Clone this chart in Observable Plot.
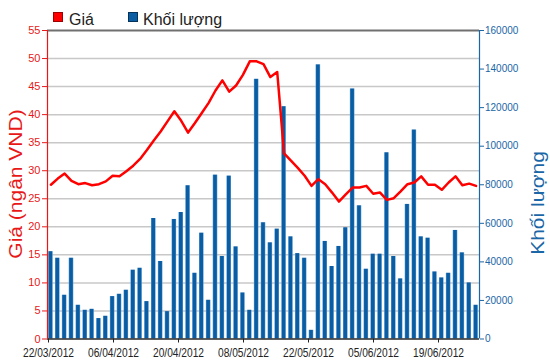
<!DOCTYPE html>
<html>
<head>
<meta charset="utf-8">
<script src="https://cdn.jsdelivr.net/npm/d3@7"></script>
<script src="https://cdn.jsdelivr.net/npm/@observablehq/plot@0.6"></script>
<style>
  html, body { margin: 0; padding: 0; background: #fff; }
  #wrap { position: relative; width: 550px; height: 364px; overflow: hidden; font-family: "Liberation Sans", Arial, sans-serif; }
  #legend { position: relative; height: 28px; }
  .sw { position: absolute; top: 12px; width: 10px; height: 10px; box-sizing: border-box; }
  .lt { position: absolute; top: 12px; font-size: 16px; line-height: 16px; color: #222; white-space: nowrap; }
  #xaxis { position: absolute; left: 0; top: 28px; }
  .yt { position: absolute; white-space: nowrap; line-height: 1; }
</style>
</head>
<body>
<div id="wrap">
  <div id="legend">
    <div class="sw" style="left:53px;background:#ff0000;border:1px solid #a00000"></div>
    <div class="lt" style="left:69px">Giá</div>
    <div class="sw" style="left:128px;background:#0b5da3;border:1px solid #06335c"></div>
    <div class="lt" style="left:143px">Khối lượng</div>
  </div>
  <div id="chart"></div>
  <div id="xaxis"></div>
  <div class="yt" style="left:16px;top:184px;font-size:21px;color:#e81818;transform:translate(-50%,-50%) rotate(-90deg) scaleY(0.85)">Giá (ngân VND)</div>
  <div class="yt" style="left:538px;top:203px;font-size:21px;color:#1a66a6;transform:translate(-50%,-50%) rotate(-90deg) scaleY(0.85)">Khối lượng</div>
</div>
<script>
// ---- data ----
const xLabels = ["22/03/2012", "06/04/2012", "20/04/2012", "08/05/2012", "22/05/2012", "05/06/2012", "19/06/2012"];

const prices = [
  27.5, 28.6, 29.5, 28.2, 27.6, 27.8, 27.4, 27.6, 28.1, 29.1,
  29.0, 29.9, 30.9, 32.1, 33.7, 35.4, 37.0, 38.8, 40.6, 38.9,
  36.8, 38.5, 40.3, 42.1, 44.3, 46.1, 44.1, 45.2, 47.1, 49.5,
  49.5, 49.0, 46.7, 47.6, 33.1, 31.8, 30.5, 29.1, 27.3, 28.5,
  27.6, 26.1, 24.5, 25.8, 27.0, 27.0, 27.3, 25.9, 26.1, 24.8,
  25.1, 26.3, 27.6, 27.9, 29.0, 27.5, 27.5, 26.6, 27.9, 29.0,
  27.4, 27.7, 27.3
];

const volumes = [
  45300, 41900, 22700, 41900, 17500, 14900, 15400, 10600, 11800, 22000,
  23200, 25300, 35700, 36700, 19400, 62500, 40200, 14200, 62000, 65600,
  79500, 34100, 54900, 20100, 85000, 42800, 84500, 47800, 23900, 14900,
  134700, 60300, 49900, 57000, 120500, 53000, 44300, 41900, 4500, 142200,
  50600, 37600, 48000, 57700, 129700, 69100, 36200, 44000, 44000, 96600,
  42800, 31200, 69800, 108400, 53000, 52300, 34800, 31700, 34100, 56300,
  44700, 29100, 17500
];

const priceTicks = [0, 5, 10, 15, 20, 25, 30, 35, 40, 45, 50, 55];
const volumeTicks = [0, 20000, 40000, 60000, 80000, 100000, 120000, 140000, 160000];

// ---- build ----
const priceMax = 55, volMax = 160000;
const k = priceMax / volMax; // volume -> price-axis units
const data = prices.map((p, i) => ({i, price: p, volume: volumes[i]}));

const RED = "#e81818", BLUE = "#1a66a6";

const chart = Plot.plot({
  width: 550,
  height: 336,
  marginTop: 2,
  marginBottom: 25.5,
  marginLeft: 47,
  marginRight: 71,
  style: {background: "transparent", fontFamily: "'Liberation Sans', Arial, sans-serif", overflow: "visible"},
  x: {domain: [0, prices.length], axis: null},
  y: {domain: [0, priceMax], axis: null},
  marks: [
    Plot.gridY(priceTicks.filter(t => t > 0 && t < priceMax), {stroke: "#c8c8c8", strokeOpacity: 1, strokeWidth: 1.5}),
    Plot.rectY(data, {
      x1: d => d.i, x2: d => d.i + 1, y1: 0, y2: d => d.volume * k,
      insetLeft: 1.15, insetRight: 1.15, fill: "url(#barGrad)"
    }),
    Plot.line(data, {x: d => d.i + 0.5, y: "price", stroke: "#ff0000", strokeWidth: 2.5, curve: "linear"}),
    Plot.ruleY([priceMax], {stroke: "#707070", strokeWidth: 2}),
    Plot.ruleY([0], {stroke: "#2a2a2a", strokeWidth: 1.5}),
    Plot.ruleX([0], {stroke: RED, strokeWidth: 1.2}),
    Plot.ruleX([prices.length], {stroke: BLUE, strokeWidth: 1.2}),
    Plot.axisY(priceTicks, {anchor: "left", color: RED, tickSize: 5, tickPadding: 2, fontSize: 11, label: null}),
    Plot.axisY(volumeTicks.map(v => v * k), {
      anchor: "right", color: BLUE, tickSize: 4, tickPadding: 1.5, fontSize: 10, label: null,
      tickFormat: d => String(Math.round(d / k))
    })
  ]
});

// bar gradient
const ns = "http://www.w3.org/2000/svg";
const defs = document.createElementNS(ns, "defs");
defs.innerHTML = '<linearGradient id="barGrad" x1="0" x2="1" y1="0" y2="0">' +
  '<stop offset="0" stop-color="#5b9fd8"/><stop offset="0.22" stop-color="#0b5da3"/>' +
  '<stop offset="0.78" stop-color="#0b5da3"/><stop offset="1" stop-color="#5b9fd8"/></linearGradient>';
chart.prepend(defs);
document.getElementById("chart").appendChild(chart);

// category axis: labels evenly spaced along the bottom
const xaxis = Plot.plot({
  width: 550,
  height: 336,
  marginTop: 2,
  marginBottom: 25.5,
  marginLeft: 47.5,
  marginRight: 112.5,
  style: {background: "transparent", overflow: "visible"},
  x: {type: "point", domain: xLabels, padding: 0},
  marks: [
    Plot.axisX({tickSize: 4, tickPadding: 5, fontSize: 13, fontFamily: "'Liberation Sans', Arial", color: "#222", label: null})
  ]
});
// narrow the date labels like the reference's condensed type
xaxis.querySelectorAll("text").forEach(t => {
  if (xLabels.includes(t.textContent)) {
    t.setAttribute("textLength", "51");
    t.setAttribute("lengthAdjust", "spacingAndGlyphs");
  }
});
document.getElementById("xaxis").appendChild(xaxis);
</script>
</body>
</html>
